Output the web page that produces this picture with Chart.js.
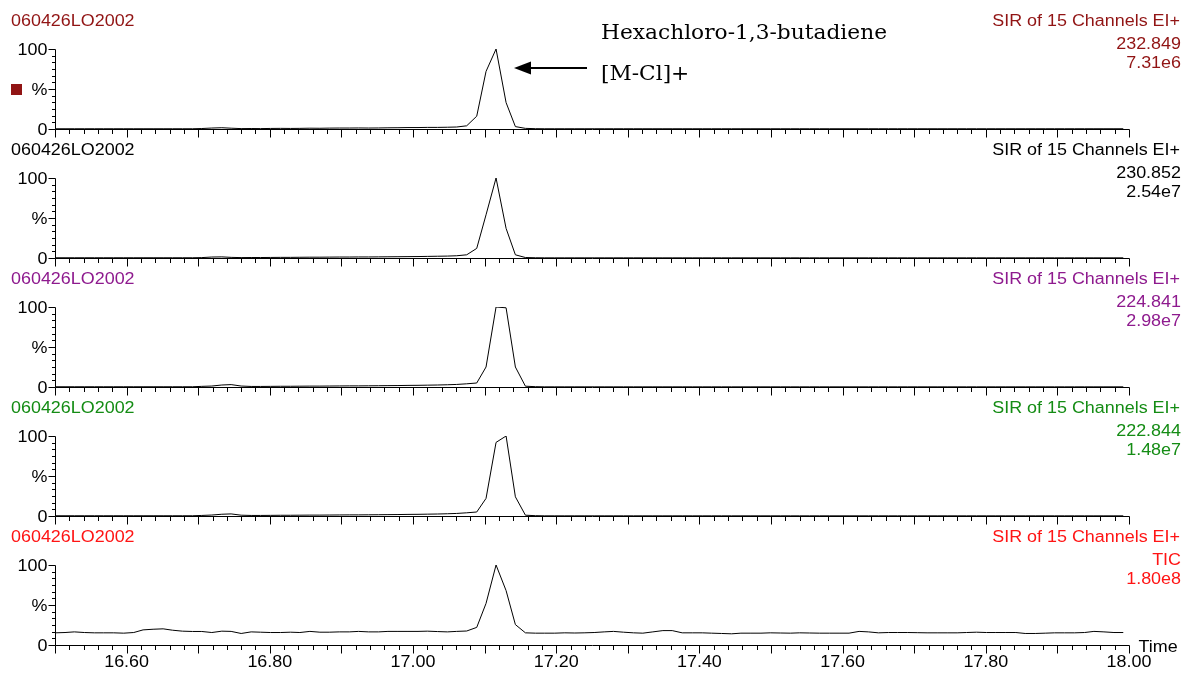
<!DOCTYPE html>
<html>
<head>
<meta charset="utf-8">
<script src="https://cdn.jsdelivr.net/npm/chart.js@4.4.1/dist/chart.umd.min.js"></script>
<style>
    html, body { margin: 0; padding: 0; background: #fff; }
    #wrap { position: relative; width: 1186px; height: 673px; overflow: hidden; }
    #wrap canvas { position: absolute; left: 0; }
</style>
</head>
<body>
<div id="wrap"></div>
<script>
// retention time (min), one scan every ~0.0137 min
const times = [
    16.500, 16.514, 16.527, 16.541, 16.555, 16.568, 16.582, 16.596, 16.610, 16.623,
    16.637, 16.651, 16.664, 16.678, 16.692, 16.705, 16.719, 16.733, 16.746, 16.760,
    16.774, 16.787, 16.801, 16.815, 16.829, 16.842, 16.856, 16.870, 16.883, 16.897,
    16.911, 16.924, 16.938, 16.952, 16.965, 16.979, 16.993, 17.007, 17.020, 17.034,
    17.048, 17.061, 17.075, 17.089, 17.102, 17.116, 17.130, 17.143, 17.157, 17.171,
    17.184, 17.198, 17.212, 17.226, 17.239, 17.253, 17.267, 17.280, 17.294, 17.308,
    17.321, 17.335, 17.349, 17.362, 17.376, 17.390, 17.404, 17.417, 17.431, 17.445,
    17.458, 17.472, 17.486, 17.499, 17.513, 17.527, 17.540, 17.554, 17.568, 17.582,
    17.595, 17.609, 17.623, 17.636, 17.650, 17.664, 17.677, 17.691, 17.705, 17.718,
    17.732, 17.746, 17.760, 17.773, 17.787, 17.801, 17.814, 17.828, 17.842, 17.855,
    17.869, 17.883, 17.896, 17.910, 17.924, 17.938, 17.951, 17.965, 17.979, 17.992
];

// relative intensity (%) per channel
const mz232 = [
    0.3, 0.3, 0.3, 0.3, 0.3, 0.3, 0.3, 0.3, 0.3, 0.3,
    0.3, 0.3, 0.3, 0.3, 0.3, 0.6, 1.2, 1.6, 1.0, 0.5,
    0.6, 0.5, 0.7, 0.8, 0.7, 0.8, 1.0, 0.9, 1.1, 1.2,
    1.2, 1.3, 1.2, 1.3, 1.5, 1.6, 1.8, 1.8, 2.0, 2.0,
    2.2, 2.5, 4, 16, 72, 100, 33, 3, 0.8, 0.4,
    0.3, 0.3, 0.3, 0.3, 0.3, 0.3, 0.3, 0.3, 0.3, 0.3,
    0.3, 0.3, 0.3, 0.3, 0.3, 0.3, 0.3, 0.3, 0.3, 0.3,
    0.3, 0.3, 0.3, 0.3, 0.3, 0.3, 0.3, 0.3, 0.3, 0.3,
    0.3, 0.3, 0.3, 0.3, 0.3, 0.3, 0.3, 0.3, 0.3, 0.3,
    0.3, 0.3, 0.3, 0.3, 0.3, 0.3, 0.3, 0.3, 0.3, 0.3,
    0.3, 0.3, 0.3, 0.3, 0.3, 0.3, 0.3, 0.3, 0.3, 0.3
];
const mz230 = [
    0.3, 0.3, 0.3, 0.3, 0.3, 0.3, 0.3, 0.3, 0.3, 0.3,
    0.3, 0.3, 0.3, 0.3, 0.3, 0.5, 1.2, 1.4, 0.8, 0.5,
    0.6, 0.6, 0.7, 0.8, 0.8, 0.9, 1.0, 1.0, 1.1, 1.2,
    1.2, 1.3, 1.3, 1.4, 1.5, 1.6, 1.7, 1.8, 2.0, 2.2,
    2.4, 2.8, 4, 12, 54, 100, 37, 4, 0.6, 0.3,
    0.2, 0.2, 0.2, 0.2, 0.2, 0.2, 0.2, 0.2, 0.2, 0.2,
    0.2, 0.2, 0.2, 0.2, 0.2, 0.2, 0.2, 0.2, 0.2, 0.2,
    0.2, 0.2, 0.2, 0.2, 0.2, 0.2, 0.2, 0.2, 0.2, 0.2,
    0.2, 0.2, 0.2, 0.2, 0.2, 0.2, 0.2, 0.2, 0.2, 0.2,
    0.2, 0.2, 0.2, 0.2, 0.2, 0.2, 0.2, 0.2, 0.2, 0.2,
    0.2, 0.2, 0.2, 0.2, 0.2, 0.2, 0.2, 0.2, 0.2, 0.2
];
const mz224 = [
    0.3, 0.3, 0.3, 0.3, 0.3, 0.3, 0.3, 0.3, 0.3, 0.3,
    0.3, 0.3, 0.3, 0.3, 0.3, 0.8, 1.2, 2.5, 3.0, 1.2,
    0.7, 0.7, 0.8, 0.9, 0.9, 1.0, 1.1, 1.1, 1.2, 1.3,
    1.4, 1.4, 1.5, 1.6, 1.7, 1.8, 2.0, 2.1, 2.3, 2.5,
    2.8, 3.2, 4.0, 5, 25, 100, 99, 25, 1, 0.4,
    0.2, 0.2, 0.2, 0.2, 0.2, 0.2, 0.2, 0.2, 0.2, 0.2,
    0.2, 0.2, 0.2, 0.2, 0.2, 0.2, 0.2, 0.2, 0.2, 0.2,
    0.2, 0.2, 0.2, 0.2, 0.2, 0.2, 0.2, 0.2, 0.2, 0.2,
    0.2, 0.2, 0.2, 0.2, 0.2, 0.2, 0.2, 0.2, 0.2, 0.2,
    0.2, 0.2, 0.2, 0.2, 0.2, 0.2, 0.2, 0.2, 0.2, 0.2,
    0.2, 0.2, 0.2, 0.2, 0.2, 0.2, 0.2, 0.2, 0.2, 0.2
];
const mz222 = [
    0.3, 0.3, 0.3, 0.3, 0.3, 0.3, 0.3, 0.3, 0.3, 0.3,
    0.3, 0.3, 0.3, 0.3, 0.3, 0.7, 1.2, 2.2, 2.6, 1.0,
    0.7, 0.7, 0.8, 0.9, 0.9, 1.0, 1.1, 1.1, 1.2, 1.3,
    1.4, 1.4, 1.5, 1.6, 1.7, 1.8, 2.0, 2.1, 2.3, 2.5,
    2.8, 3.2, 4.0, 5, 22, 92, 100, 24, 1, 0.4,
    0.2, 0.2, 0.2, 0.2, 0.2, 0.2, 0.2, 0.2, 0.2, 0.2,
    0.2, 0.2, 0.2, 0.2, 0.2, 0.2, 0.2, 0.2, 0.2, 0.2,
    0.2, 0.2, 0.2, 0.2, 0.2, 0.2, 0.2, 0.2, 0.2, 0.2,
    0.2, 0.2, 0.2, 0.2, 0.2, 0.2, 0.2, 0.2, 0.2, 0.2,
    0.2, 0.2, 0.2, 0.2, 0.2, 0.2, 0.2, 0.2, 0.2, 0.2,
    0.2, 0.2, 0.2, 0.2, 0.2, 0.2, 0.2, 0.2, 0.2, 0.2
];
const tic = [
    15.2, 15.6, 16.4, 15.6, 15.2, 15.2, 15.2, 14.8, 15.6, 18.9,
    19.7, 20.2, 18.5, 17.3, 16.9, 16.9, 15.6, 17.3, 17.0, 14.4,
    16.4, 16.0, 15.6, 15.6, 16.0, 15.6, 17.0, 16.0, 16.0, 16.4,
    16.4, 17.0, 16.4, 16.4, 17.0, 17.0, 17.0, 17.0, 17.3, 16.8,
    16.4, 17.0, 17.5, 22, 52, 100, 68, 25.5, 15.2, 14.8,
    14.8, 14.8, 15.2, 15.0, 15.2, 15.6, 16.4, 17.0, 16.0, 15.2,
    14.8, 16.4, 18.0, 18.0, 15.2, 15.2, 15.2, 14.8, 14.4, 14.0,
    14.8, 14.8, 14.8, 15.2, 15.0, 14.8, 15.2, 15.0, 14.8, 14.8,
    14.8, 14.8, 17.0, 16.4, 15.2, 15.6, 15.6, 15.6, 15.4, 15.2,
    15.2, 15.2, 15.2, 15.6, 16.0, 15.6, 15.6, 15.6, 15.6, 14.4,
    14.4, 14.8, 15.2, 15.2, 15.2, 15.6, 17.0, 16.4, 15.6, 15.6
];

const fileName = '060426LO2002';
const channelTitle = 'SIR of 15 Channels EI+';
const channelMasses = ['232.849', '230.852', '224.841', '222.844', 'TIC'];
const channelMaxima = ['7.31e6', '2.54e7', '2.98e7', '1.48e7', '1.80e8'];
const channelColors = ['#911414', '#000000', '#8e1a8e', '#148c14', '#ff1414'];
const xTickLabels = ['16.60', '16.80', '17.00', '17.20', '17.40', '17.60', '17.80', '18.00'];

const SANS = '"Liberation Sans", Arial, sans-serif';
const SERIF = '"DejaVu Serif", "Liberation Serif", serif';
const STRETCH = 1.12; // the original sans text is a little wider than Arial

function wideText(ctx, str, x, y, align, size, color) {
    ctx.save();
    ctx.font = size + 'px ' + SANS;
    ctx.fillStyle = color;
    ctx.textBaseline = 'middle';
    ctx.textAlign = 'left';
    const w = ctx.measureText(str).width * STRETCH;
    const left = align === 'right' ? x - w : align === 'center' ? x - w / 2 : x;
    ctx.translate(left, y + 2);
    ctx.scale(STRETCH, 1);
    ctx.fillText(str, 0, 0);
    ctx.restore();
}

const chromAxes = {
    id: 'chromAxes',
    afterDraw(chart, args, o) {
        const ctx = chart.ctx;
        const xs = chart.scales.x;
        const ys = chart.scales.y;
        const y0 = Math.round(ys.getPixelForValue(0)) + 0.5;
        const yTop = Math.round(ys.getPixelForValue(100)) + 0.5;
        const xL = Math.round(xs.getPixelForValue(16.5)) + 0.5;
        const xR = Math.round(xs.getPixelForValue(18.0)) + 0.5;

        ctx.save();
        ctx.strokeStyle = '#000';
        ctx.lineWidth = 1;
        ctx.beginPath();
        ctx.moveTo(xL, yTop);
        ctx.lineTo(xL, y0);
        ctx.lineTo(xR, y0);
        // time ticks every 0.02, long ones every 0.1
        for (let i = 0; i <= 75; i++) {
            const x = Math.round(xs.getPixelForValue(16.5 + i * 0.02)) + 0.5;
            ctx.moveTo(x, y0);
            ctx.lineTo(x, y0 + (i % 5 === 0 ? 8 : 4.5));
        }
        // intensity ticks
        for (let i = 0; i <= 12; i++) {
            const y = Math.round(ys.getPixelForValue(i * 100 / 12)) + 0.5;
            ctx.moveTo(xL, y);
            ctx.lineTo(xL - (i % 6 === 0 ? 7 : 3.5), y);
        }
        ctx.stroke();
        ctx.restore();

        wideText(ctx, '100', xL - 8, ys.getPixelForValue(100), 'right', 16, '#000');
        wideText(ctx, '%', xL - 8, ys.getPixelForValue(50), 'right', 16, '#000');
        wideText(ctx, '0', xL - 8, ys.getPixelForValue(0), 'right', 16, '#000');

        const top = chart.chartArea.top;
        wideText(ctx, fileName, 11, top - 29, 'left', 16, o.color);
        wideText(ctx, channelTitle, 1180, top - 29, 'right', 16, o.color);
        wideText(ctx, o.mass, 1181, top - 6, 'right', 16, o.color);
        wideText(ctx, o.maximum, 1181, top + 13, 'right', 16, o.color);

        if (o.marker) {
            ctx.fillStyle = o.color;
            ctx.fillRect(11, Math.round(ys.getPixelForValue(50)) - 5, 11, 11);
        }

        if (o.bottom) {
            xTickLabels.forEach(lbl => {
                wideText(ctx, lbl, xs.getPixelForValue(parseFloat(lbl)), y0 + 15, 'center', 16, '#000');
            });
            wideText(ctx, 'Time', xR + 9, y0, 'left', 16, '#000');
        }

        if (o.annotation) {
            ctx.save();
            ctx.fillStyle = '#000';
            ctx.textBaseline = 'middle';
            ctx.font = '21px ' + SERIF;
            const label = 'Hexachloro-1,3-butadiene';
            const sx = 286 / ctx.measureText(label).width;
            ctx.translate(601, 0);
            ctx.scale(sx, 1);
            ctx.fillText(label, 0, 34);
            ctx.fillText('[M-Cl]+', 0, 75);
            ctx.restore();
            // arrow pointing at the peak
            ctx.save();
            ctx.strokeStyle = '#000';
            ctx.fillStyle = '#000';
            ctx.lineWidth = 2;
            ctx.beginPath();
            ctx.moveTo(587, 68);
            ctx.lineTo(528, 68);
            ctx.stroke();
            ctx.beginPath();
            ctx.moveTo(514, 68);
            ctx.lineTo(531, 61.5);
            ctx.lineTo(531, 74.5);
            ctx.closePath();
            ctx.fill();
            ctx.restore();
        }
    }
};

const wrap = document.getElementById('wrap');
const panelTops = [0, 129, 258, 387, 516];
const panelHeights = [145, 145, 145, 145, 157];
const series = [mz232, mz230, mz224, mz222, tic];

series.forEach((values, idx) => {
    const canvas = document.createElement('canvas');
    canvas.width = 1186;
    canvas.height = panelHeights[idx];
    canvas.style.top = panelTops[idx] + 'px';
    wrap.appendChild(canvas);

    new Chart(canvas, {
        type: 'line',
        data: {
            datasets: [{
                data: times.map((t, i) => ({ x: t, y: values[i] })),
                borderColor: '#000',
                borderWidth: 1,
                pointRadius: 0,
                tension: 0,
                fill: false
            }]
        },
        options: {
            responsive: false,
            animation: false,
            events: [],
            layout: { padding: { left: 55, right: 57, top: 49, bottom: panelHeights[idx] - 129 } },
            scales: {
                x: { type: 'linear', min: 16.5, max: 18.0, display: false },
                y: { min: 0, max: 100, display: false }
            },
            plugins: {
                legend: { display: false },
                tooltip: { enabled: false },
                chromAxes: {
                    color: channelColors[idx],
                    mass: channelMasses[idx],
                    maximum: channelMaxima[idx],
                    marker: idx === 0,
                    annotation: idx === 0,
                    bottom: idx === series.length - 1
                }
            }
        },
        plugins: [chromAxes]
    });
});
</script>
</body>
</html>
